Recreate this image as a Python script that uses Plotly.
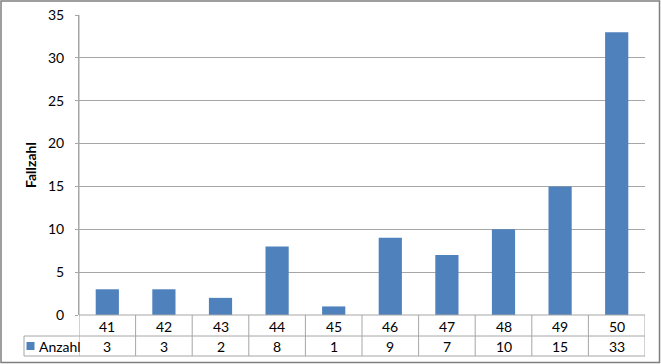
import plotly.graph_objects as go

categories = ["41", "42", "43", "44", "45", "46", "47", "48", "49", "50"]
values = [3, 3, 2, 8, 1, 9, 7, 10, 15, 33]
series_name = "Anzahl"
y_ticks = [0, 5, 10, 15, 20, 25, 30, 35]

W, H = 661, 364
L, R, T, B = 79, 16, 15, 49
pw, ph = W - L - R, H - T - B

def px(x):
    return (x - L) / pw

def py(y):
    return (H - B - y) / ph

BAR = "#4F81BD"
LINE = "#A6A6A6"
FONT = "Lato, Open Sans, sans-serif"
TXT = "#000000"
FS = 14

n = len(categories)
xs = list(range(n))

fig = go.Figure()
fig.add_trace(go.Bar(x=xs, y=values, width=0.41, marker=dict(color=BAR, line=dict(width=0)),
                     name=series_name, showlegend=False))

shapes = []
y_row1_top = 0.0
y_row2_top = py(336)
y_bottom = py(356)
shapes.append(dict(type="line", xref="x", yref="paper", x0=-0.5, x1=n - 0.5, y0=y_row1_top, y1=y_row1_top,
                   line=dict(color=LINE, width=1)))
shapes.append(dict(type="line", xref="paper", yref="paper", x0=px(24), x1=1, y0=y_row2_top, y1=y_row2_top,
                   line=dict(color=LINE, width=1)))
shapes.append(dict(type="line", xref="paper", yref="paper", x0=px(24), x1=1, y0=y_bottom, y1=y_bottom,
                   line=dict(color=LINE, width=1)))
for i in range(n + 1):
    shapes.append(dict(type="line", xref="x", yref="paper", x0=i - 0.5, x1=i - 0.5,
                       y0=y_bottom, y1=0 if 0 < i < n else (1 if i == 0 else 0),
                       line=dict(color=LINE, width=1)))
shapes.append(dict(type="line", xref="paper", yref="paper", x0=px(24), x1=px(24), y0=y_bottom, y1=y_row2_top,
                   line=dict(color=LINE, width=1)))
shapes.append(dict(type="rect", xref="paper", yref="paper", x0=px(26.5), x1=px(34.5), y0=py(350), y1=py(342),
                   fillcolor=BAR, line=dict(width=0)))
shapes.append(dict(type="rect", xref="paper", yref="paper", x0=px(1), x1=px(W - 1.5), y0=py(H - 1.5), y1=py(1),
                   line=dict(color="#7F7F7F", width=1.5)))

annotations = []
for i, (c, v) in enumerate(zip(categories, values)):
    annotations.append(dict(x=i, y=py(326), xref="x", yref="paper", text=c, showarrow=False,
                            font=dict(family=FONT, size=FS, color=TXT), xanchor="center", yanchor="middle"))
    annotations.append(dict(x=i, y=py(346), xref="x", yref="paper", text=str(v), showarrow=False,
                            font=dict(family=FONT, size=FS, color=TXT), xanchor="center", yanchor="middle"))
annotations.append(dict(x=px(37), y=py(346), xref="paper", yref="paper", text=series_name, showarrow=False,
                        font=dict(family=FONT, size=FS, color=TXT), xanchor="left", yanchor="middle"))
annotations.append(dict(x=px(30), y=py(165), xref="paper", yref="paper", text="<b>Fallzahl</b>", showarrow=False,
                        textangle=-90, font=dict(family=FONT, size=FS, color=TXT), xanchor="center", yanchor="middle"))

fig.update_layout(
    width=W, height=H,
    margin=dict(l=L, r=R, t=T, b=B, pad=0, autoexpand=False),
    paper_bgcolor="white", plot_bgcolor="white",
    shapes=shapes, annotations=annotations,
    xaxis=dict(range=[-0.5, n - 0.5], showticklabels=False, showgrid=False, zeroline=False,
               showline=False, ticks="", fixedrange=True, automargin=False),
    yaxis=dict(range=[0, 35], tickvals=y_ticks, showgrid=True, gridcolor=LINE, gridwidth=1,
               zeroline=False, showline=True, linecolor=LINE, linewidth=1, ticks="outside",
               ticklen=3, tickcolor=LINE, tickfont=dict(family=FONT, size=FS, color=TXT),
               ticklabelstandoff=8, fixedrange=True, automargin=False),
    font=dict(family=FONT),
)

fig.write_html("out.html", config={"displayModeBar": False},
               post_script="document.body.style.margin='0';document.body.style.padding='0';")
